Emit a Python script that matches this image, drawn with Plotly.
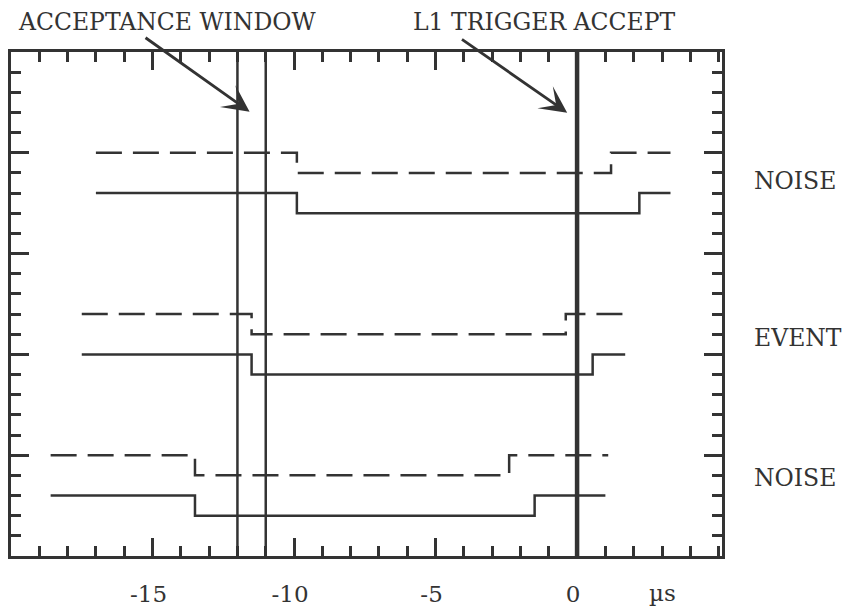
import plotly.graph_objects as go

INK = "#333333"
FONT = "DejaVu Serif"

# Axis limits: time in microseconds, level in arbitrary units
X_RANGE = [-20, 5.12]
Y_RANGE = [0, 25]

# Step traces: breakpoints (µs) and levels
noise_top_dash_t = [-17, -9.9, 1.2, 3.3]
noise_top_dash_v = [20, 19, 20, 20]
noise_top_solid_t = [-17, -9.9, 2.2, 3.3]
noise_top_solid_v = [18, 17, 18, 18]

event_dash_t = [-17.5, -11.5, -0.4, 1.7]
event_dash_v = [12, 11, 12, 12]
event_solid_t = [-17.5, -11.5, 0.55, 1.7]
event_solid_v = [10, 9, 10, 10]

noise_bot_dash_t = [-18.6, -13.5, -2.4, 1.1]
noise_bot_dash_v = [5, 4, 5, 5]
noise_bot_solid_t = [-18.6, -13.5, -1.5, 1.0]
noise_bot_solid_v = [3, 2, 3, 3]

# Marker lines
acceptance_window = [-12, -11]
l1_accept = 0

# Axis ticks
x_tick_vals = [-15, -10, -5, 0]
x_tick_text = ["-15", "-10", "-5", "0"]
y_major_vals = [5, 10, 15, 20]

# Group labels on the right (level at which each label sits)
group_labels = ["NOISE", "EVENT", "NOISE"]
group_label_y = [18.62, 10.82, 3.86]

fig = go.Figure()

series = [
    (noise_top_dash_t, noise_top_dash_v, "26px,11px"),
    (noise_top_solid_t, noise_top_solid_v, "solid"),
    (event_dash_t, event_dash_v, "26px,11px"),
    (event_solid_t, event_solid_v, "solid"),
    (noise_bot_dash_t, noise_bot_dash_v, "26px,11px"),
    (noise_bot_solid_t, noise_bot_solid_v, "solid"),
]
for t, v, dash in series:
    fig.add_trace(go.Scatter(
        x=t, y=v, mode="lines", line_shape="hv",
        line=dict(color=INK, width=2.5, dash=dash),
        showlegend=False, hoverinfo="skip",
    ))

for xv in acceptance_window:
    fig.add_vline(x=xv, line=dict(color=INK, width=2.5), layer="above")
fig.add_vline(x=l1_accept, line=dict(color=INK, width=4.5), layer="above")

# Arrows pointing at the marker lines
arrow_style = dict(showarrow=True, arrowhead=3, arrowsize=1.6, arrowwidth=2.8,
                   arrowcolor=INK, text="", xref="x", yref="y",
                   axref="x", ayref="y", standoff=0)
fig.add_annotation(x=-11.57, y=22.04, ax=-15.3, ay=25.76, **arrow_style)
fig.add_annotation(x=-0.35, y=21.99, ax=-4.12, ay=25.68, **arrow_style)

text_font = dict(family=FONT, size=23.5, color=INK)
fig.add_annotation(x=0.007, y=1.06, text="ACCEPTANCE WINDOW", showarrow=False,
                   xref="paper", yref="paper", xanchor="left", yanchor="middle",
                   font=text_font)
fig.add_annotation(x=0.5625, y=1.06, text="L1 TRIGGER ACCEPT", showarrow=False,
                   xref="paper", yref="paper", xanchor="left", yanchor="middle",
                   font=text_font)

for lab, yv in zip(group_labels, group_label_y):
    fig.add_annotation(x=1.0425, y=yv, text=lab, showarrow=False,
                       xref="paper", yref="y", xanchor="left", yanchor="middle",
                       font=text_font)

fig.add_annotation(x=3.0, y=-0.074, text="µs", showarrow=False,
                   xref="x", yref="paper", xanchor="center", yanchor="middle",
                   font=dict(family=FONT, size=23, color=INK))

axis_common = dict(
    showline=True, linewidth=3, linecolor=INK, mirror="allticks",
    ticks="inside", ticklen=18, tickwidth=2.5, tickcolor=INK,
    showgrid=False, zeroline=False, automargin=False,
)
fig.update_xaxes(
    range=X_RANGE, tickvals=x_tick_vals, ticktext=x_tick_text,
    tickfont=dict(family=FONT, size=23, color=INK),
    minor=dict(ticks="inside", ticklen=10, tickwidth=2.5, tickcolor=INK,
               dtick=1, tick0=0, showgrid=False),
    ticklabelstandoff=15, ticklabelshift=-4,
    **axis_common,
)
fig.update_yaxes(
    range=Y_RANGE, tickvals=y_major_vals, showticklabels=False,
    minor=dict(ticks="inside", ticklen=10, tickwidth=2.5, tickcolor=INK,
               dtick=1, tick0=0, showgrid=False),
    **axis_common,
)

fig.update_layout(
    width=842, height=608,
    margin=dict(l=11, r=120, t=52, b=52),
    paper_bgcolor="white", plot_bgcolor="white",
    showlegend=False,
)

fig.write_html("out.html")
